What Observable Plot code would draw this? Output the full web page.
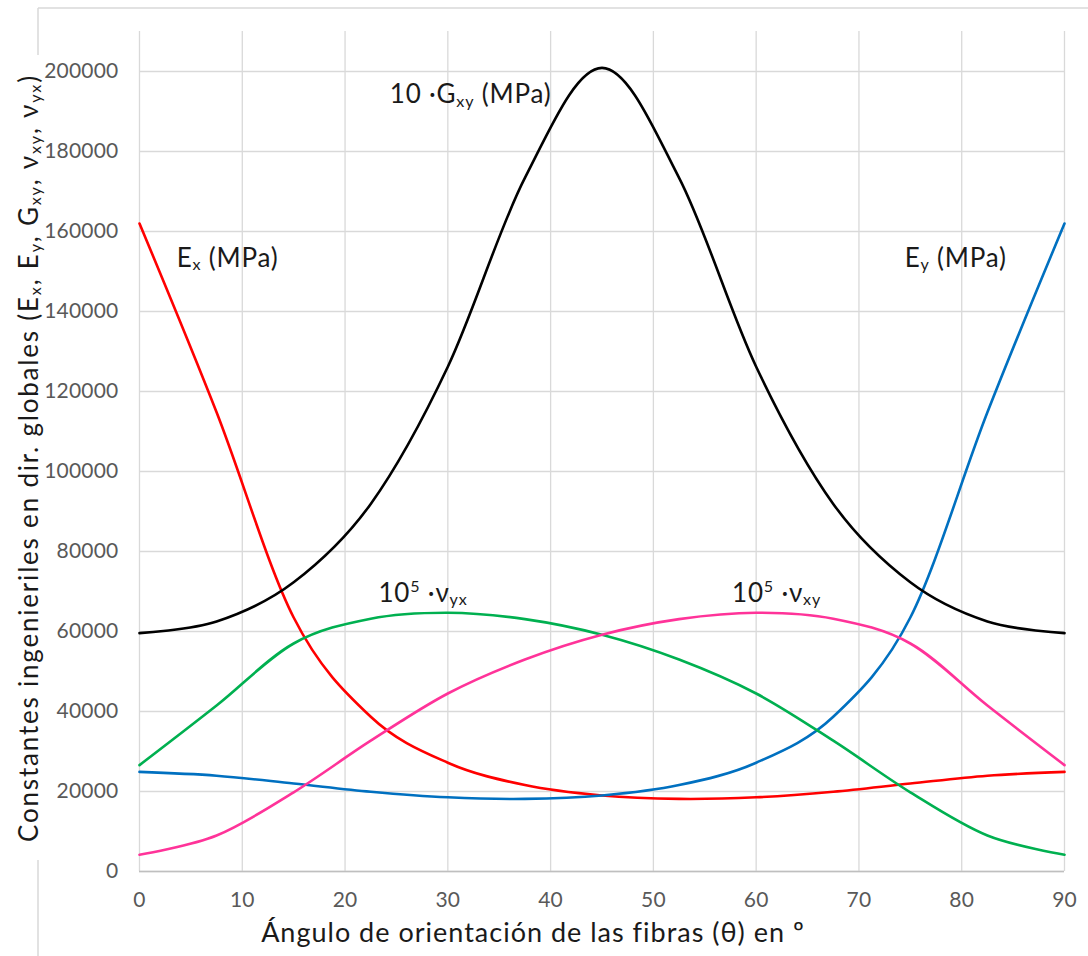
<!DOCTYPE html>
<html><head><meta charset="utf-8">
<script src="https://cdn.jsdelivr.net/npm/d3@7"></script>
<script src="https://cdn.jsdelivr.net/npm/@observablehq/plot@0.6"></script>
<style>
body{margin:0;background:#fff;}
#chart{position:relative;width:1088px;height:956px;overflow:hidden;background:#fff;}
#chart svg g[aria-label="x-axis tick label"] text, #chart svg g[aria-label="y-axis tick label"] text{letter-spacing:0.2px;}
</style></head><body><div id="chart"></div>
<script>
// ---- data (points every 7.5°) ----
const theta = [0,7.5,15,22.5,30,37.5,45,52.5,60,67.5,75,82.5,90];
const Ex   = [162000,114800,63500,38700,27200,21600,19000,18150,18550,19950,22000,23950,24900];
const Ey   = [24900,23950,22000,19950,18550,18150,19000,21600,27200,38700,63500,114800,162000];
const G10  = [59600,62500,72300,91900,126200,173400,200900,173400,126200,91900,72300,62500,59600];
const nuYx = [26600,41500,57000,63200,64700,63100,59200,53000,44500,32700,19800,9000,4200];
const nuXy = [4200,9000,19800,32700,44500,53000,59200,63100,64700,63200,57000,41500,26600];
const seriesNames = ["Ex","Ey","10Gxy","nuyx","nuxy"];
const seriesColors = ["#ff0000","#0070c0","#000000","#00b050","#ff3399"];
const xTicks = [0,10,20,30,40,50,60,70,80,90];
const yTicks = [0,20000,40000,60000,80000,100000,120000,140000,160000,180000,200000];
const xTitle = "Ángulo de orientación de las fibras (θ) en º";
const yTitleParts = [["Constantes ingenieriles en dir. globales (E","n"],["x","sub"],[", E","n"],["y","sub"],[", G","n"],["xy","sub"],[", ν","n"],["xy","sub"],[", ν","n"],["yx","sub"],[")","n"]];
const annotations = [
  {theta:24.4, value:191900, parts:[["10 ·G","n"],["xy","sub"],[" (MPa)","n"]]},
  {theta:3.67, value:151000, parts:[["E","n"],["x","sub"],[" (MPa)","n"]]},
  {theta:74.5, value:151000, parts:[["E","n"],["y","sub"],[" (MPa)","n"]]},
  {theta:23.3, value:67300, parts:[["10","n"],["5","sup"],[" ·ν","n"],["yx","sub"]]},
  {theta:57.7, value:67300, parts:[["10","n"],["5","sup"],[" ·ν","n"],["xy","sub"]]}
];

const rows = [];
[Ex,Ey,G10,nuYx,nuXy].forEach((arr,i)=>arr.forEach((v,j)=>rows.push({theta:theta[j], value:v, series:seriesNames[i]})));

const font = "Lato, 'Open Sans', sans-serif";
const plot = Plot.plot({
  width:1088, height:956,
  marginLeft:139, marginRight:24, marginTop:31, marginBottom:85,
  style:{fontFamily:font, fontSize:"21px", color:"#595959", background:"transparent", overflow:"visible"},
  x:{domain:[0,90]},
  y:{domain:[0,210000]},
  color:{domain:seriesNames, range:seriesColors},
  marks:[
    Plot.gridX(xTicks, {stroke:"#d9d9d9", strokeOpacity:1, strokeWidth:1.3}),
    Plot.gridY(yTicks, {stroke:"#d9d9d9", strokeOpacity:1, strokeWidth:1.3}),
    Plot.ruleY([0], {stroke:"#bfbfbf", strokeWidth:1.6}),
    Plot.axisX(xTicks, {tickSize:0, tickPadding:21, label:null, tickFormat:d=>String(d), fill:"#595959"}),
    Plot.axisY(yTicks, {tickSize:0, tickPadding:21, label:null, tickFormat:d=>String(d), fill:"#595959"}),
    Plot.line(rows, {x:"theta", y:"value", z:"series", stroke:"series", strokeWidth:2.6, curve:"cardinal", tension:0})
  ]
});
document.getElementById("chart").appendChild(plot);

const svg = d3.select(plot);
const sx = plot.scale("x"), sy = plot.scale("y");

// chart-area frame (behind everything), with a white gap where the y title sits
const frame = svg.insert("g", ":first-child");
frame.append("line").attr("x1",38).attr("x2",38).attr("y1",8).attr("y2",956).attr("stroke","#d9d9d9").attr("stroke-width",1.5);
frame.append("line").attr("x1",38).attr("x2",1088).attr("y1",8).attr("y2",8).attr("stroke","#d9d9d9").attr("stroke-width",1.5);
frame.append("rect").attr("x",10).attr("y",55).attr("width",36).attr("height",805).attr("fill","#fff");

function rich(textSel, parts, base){
  let shift = 0;
  parts.forEach(([t,k])=>{
    const ts = textSel.append("tspan").text(t);
    let target = 0;
    if(k==="sub"){ ts.attr("font-size", (base*0.62)+"px"); target = base*0.12; }
    else if(k==="sup"){ ts.attr("font-size", (base*0.62)+"px"); target = -base*0.38; }
    if(target!==shift){ ts.attr("dy", target-shift); shift = target; }
  });
}

// annotations
const ann = svg.append("g").attr("font-family", font).attr("fill","#1a1a1a").attr("text-anchor","start");
annotations.forEach(a=>{
  const t = ann.append("text").attr("x", sx.apply(a.theta)).attr("y", sy.apply(a.value))
    .attr("font-size","26px").attr("letter-spacing","0.8px").attr("text-anchor","start");
  rich(t, a.parts, 26);
});

// x axis title
svg.append("text").attr("x",533).attr("y",942).attr("text-anchor","middle")
  .attr("font-family",font).attr("font-size","27px").attr("letter-spacing","1px").attr("fill","#1a1a1a").text(xTitle);

// y axis title
const yt = svg.append("text").attr("transform","translate(38,458) rotate(-90)").attr("text-anchor","middle")
  .attr("font-family",font).attr("font-size","26px").attr("letter-spacing","1.8px").attr("fill","#1a1a1a");
rich(yt, yTitleParts, 26);
</script></body></html>
